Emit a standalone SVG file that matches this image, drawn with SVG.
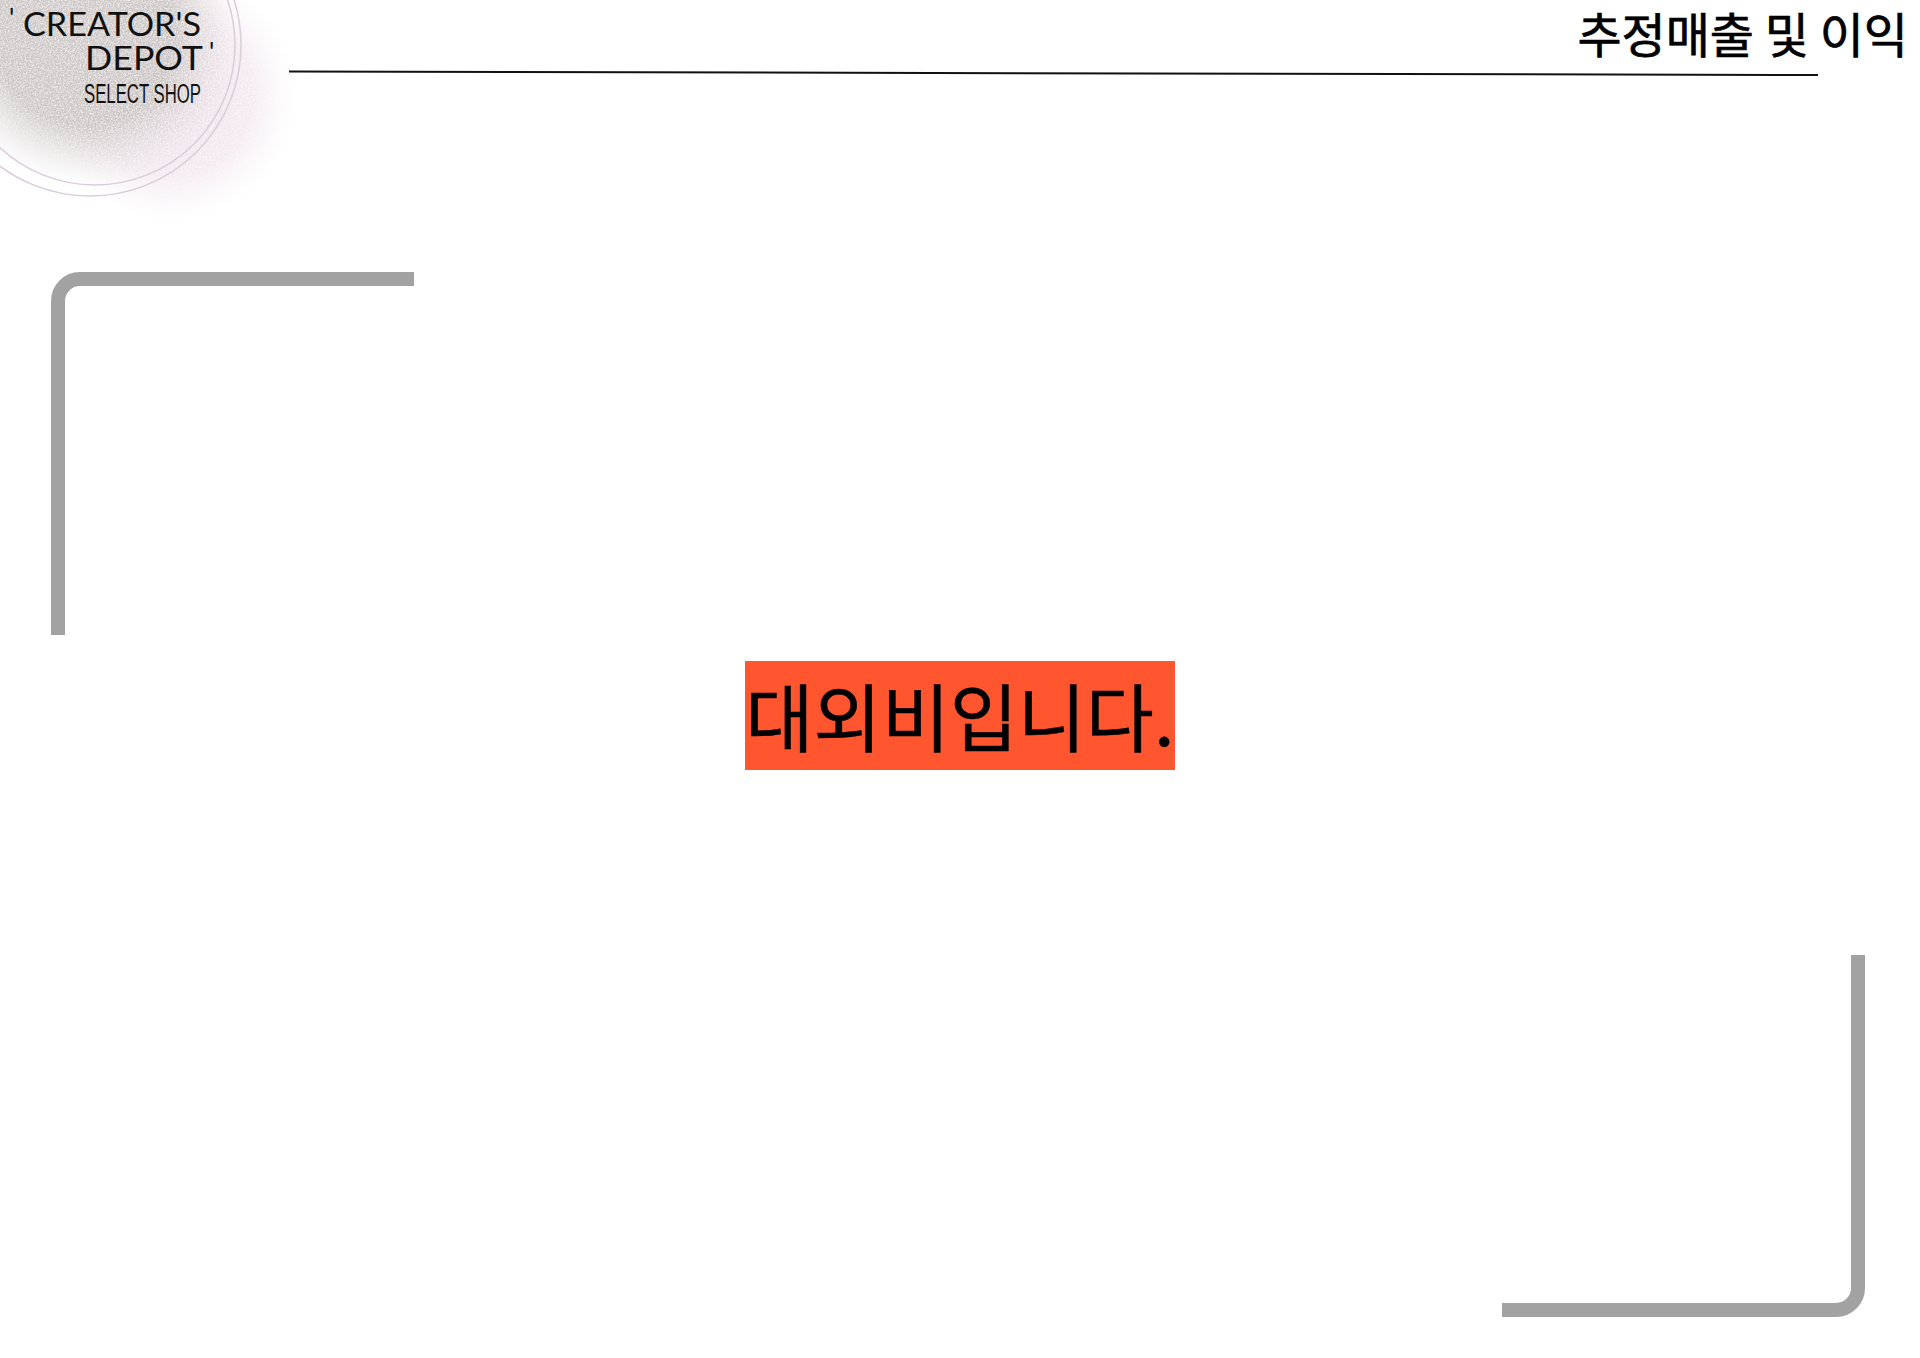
<svg xmlns="http://www.w3.org/2000/svg" width="1920" height="1358" viewBox="0 0 1920 1358">
<style>
.bar{fill:none;stroke:#a2a2a2;stroke-width:14}
.kr{font-family:"Noto Sans CJK KR","Noto Sans",sans-serif;fill:#000;stroke:#000;font-weight:400}
.logo{font-family:"Lato","Liberation Sans",sans-serif;fill:#111;font-weight:400}
.shop{font-family:"Liberation Sans","Roboto",sans-serif;fill:#111}
.ring{fill:none;stroke:#d9cdda;stroke-width:1.5}
</style>
<defs>
<radialGradient id="gray" gradientUnits="userSpaceOnUse" cx="85" cy="35" r="150">
<stop offset="0" stop-color="#cbc6c4" stop-opacity=".95"/>
<stop offset=".6" stop-color="#c4bebd" stop-opacity=".85"/>
<stop offset="1" stop-color="#e0dadb" stop-opacity="0"/>
</radialGradient>
<radialGradient id="pink" gradientUnits="userSpaceOnUse" cx="170" cy="95" r="125">
<stop offset="0" stop-color="#ead9e4" stop-opacity=".9"/>
<stop offset=".65" stop-color="#f0e3eb" stop-opacity=".75"/>
<stop offset="1" stop-color="#f7f0f4" stop-opacity="0"/>
</radialGradient>
<filter id="grain" x="0" y="0" width="100%" height="100%">
<feTurbulence type="fractalNoise" baseFrequency=".6" numOctaves="2" seed="4" result="n"/>
<feColorMatrix in="n" type="matrix" values="0 0 0 0 1  0 0 0 0 1  0 0 0 0 1  1.6 0 0 0 -.6" result="w"/>
<feComposite in="w" in2="SourceAlpha" operator="in" result="spots"/>
<feMerge><feMergeNode in="SourceGraphic"/><feMergeNode in="spots"/></feMerge>
</filter>
</defs>
<rect width="1920" height="1358" fill="#fff"/>
<g id="logo">
<g filter="url(#grain)">
<circle cx="170" cy="95" r="125" fill="url(#pink)"/>
<circle cx="85" cy="35" r="150" fill="url(#gray)"/>
</g>
<circle class="ring" cx="90" cy="45" r="151"/>
<circle class="ring" cx="95" cy="45" r="140"/>
<text class="logo" x="9" y="28" font-size="26">'</text>
<text class="logo" x="23" y="36" font-size="33" textLength="178" lengthAdjust="spacingAndGlyphs">CREATOR'S</text>
<text class="logo" x="85" y="70" font-size="33" textLength="118" lengthAdjust="spacingAndGlyphs">DEPOT</text>
<text class="logo" x="209" y="62" font-size="26">'</text>
<text class="shop" x="84" y="103" font-size="27" textLength="117" lengthAdjust="spacingAndGlyphs">SELECT SHOP</text>
</g>
<g id="title">
<text class="kr" x="1908" y="53" font-size="48" stroke-width=".7" text-anchor="end">추정매출 및 이익</text>
</g>
<g id="connectors">
<line x1="289" y1="71.5" x2="1818" y2="75" stroke="#111" stroke-width="2"/>
<path class="bar" d="M414 279H80A22 22 0 0 0 58 301V635"/>
<path class="bar" d="M1502 1310H1836A22 22 0 0 0 1858 1288V955"/>
</g>
<g id="notice">
<rect x="745" y="661" width="430" height="109" fill="#ff5630"/>
<text class="kr" x="960" y="746" font-size="74" stroke-width=".5" text-anchor="middle">대외비입니다.</text>
</g>
</svg>
